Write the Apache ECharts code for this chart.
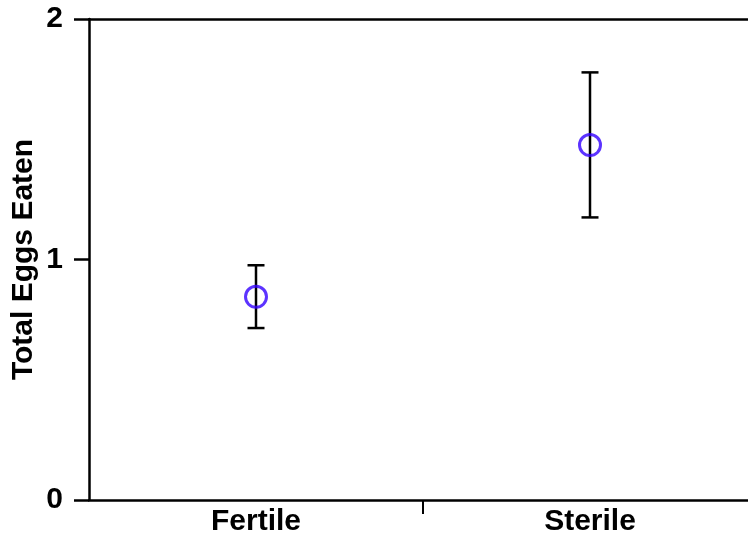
<!DOCTYPE html>
<html><head><meta charset="utf-8">
<script src="https://cdn.jsdelivr.net/npm/echarts@6/dist/echarts.min.js"></script>
<style>html,body{margin:0;padding:0;background:#fff}#c{width:748px;height:537px}</style>
</head><body><div id="c"></div>
<script>
const categories = ['Fertile', 'Sterile'];
const means = [0.845, 1.476];
const lowers = [0.715, 1.175];
const uppers = [0.976, 1.778];
const yTicks = [0, 1, 2];

const chart = echarts.init(document.getElementById('c'));
const font = 'Liberation Sans';
chart.setOption({
  animation: false,
  grid: {left: 89, right: -9, top: 19, bottom: 37, outerBoundsMode: 'none', containLabel: false},
  xAxis: [{
    type: 'category', data: categories, boundaryGap: true,
    axisLine: {lineStyle: {color: '#000', width: 2.5}},
    axisTick: {show: false},
    axisLabel: {color: '#000', fontFamily: font, fontWeight: 'bold', fontSize: 30, margin: 7}
  }, {
    type: 'category', data: categories, position: 'top',
    axisLine: {show: true, lineStyle: {color: '#000', width: 2.5}},
    axisTick: {show: false}, axisLabel: {show: false}
  }],
  yAxis: {
    type: 'value', min: 0, max: 2, interval: 1,
    axisLine: {show: true, lineStyle: {color: '#000', width: 2.5}},
    axisTick: {show: true, length: 15, lineStyle: {color: '#000', width: 2.5}},
    splitLine: {show: false},
    axisLabel: {color: '#000', fontFamily: font, fontWeight: 'bold', fontSize: 30, margin: 26,
      formatter: v => yTicks.includes(v) ? String(v) : ''},
    name: 'Total Eggs Eaten', nameLocation: 'middle', nameGap: 50, nameMoveOverlap: false,
    nameTextStyle: {color: '#000', fontFamily: font, fontWeight: 'bold', fontSize: 30}
  },
  series: [{
    type: 'custom',
    clip: false,
    data: categories.map((c, i) => [i, lowers[i], uppers[i]]),
    renderItem: function (params, api) {
      const x = api.value(0);
      const lo = api.coord([x, api.value(1)]);
      const hi = api.coord([x, api.value(2)]);
      const hw = 8.5;
      const style = {stroke: '#000', lineWidth: 2.5};
      const children = [
        {type: 'line', shape: {x1: lo[0], y1: lo[1], x2: hi[0], y2: hi[1]}, style},
        {type: 'line', shape: {x1: lo[0] - hw, y1: lo[1], x2: lo[0] + hw, y2: lo[1]}, style},
        {type: 'line', shape: {x1: hi[0] - hw, y1: hi[1], x2: hi[0] + hw, y2: hi[1]}, style}
      ];
      if (params.dataIndex === 0) {
        // category boundary tick between the two categories
        const band = api.size([1, 0])[0];
        const base = api.coord([x, 0]);
        const tx = base[0] + band / 2;
        children.push({type: 'line', shape: {x1: tx, y1: base[1], x2: tx, y2: base[1] + 14},
          style: {stroke: '#000', lineWidth: 2}});
      }
      return {type: 'group', children};
    },
    z: 2
  }, {
    type: 'scatter',
    data: means.map((m, i) => [i, m]),
    symbol: 'circle', symbolSize: 21,
    itemStyle: {color: 'transparent', borderColor: '#3300ff', borderWidth: 3},
    z: 3
  }]
});
</script></body></html>
